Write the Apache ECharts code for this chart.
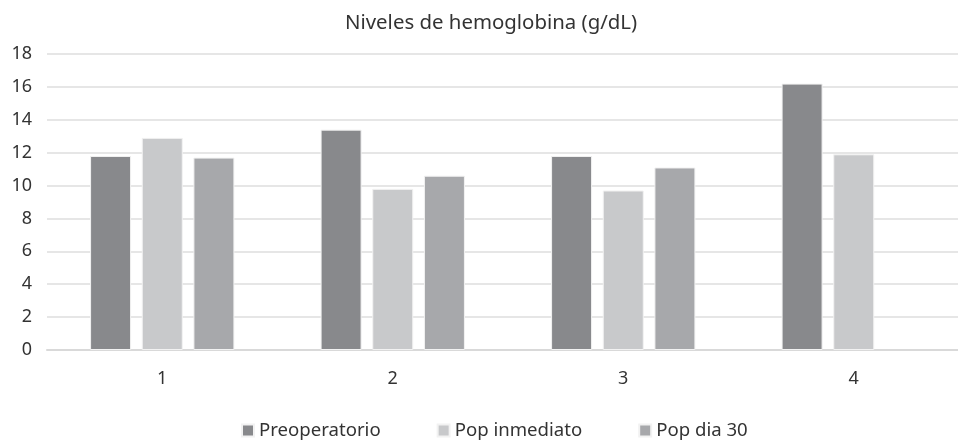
<!DOCTYPE html>
<html>
<head>
    <meta charset="utf-8">
    <title>Niveles de hemoglobina</title>
    <script type="text/javascript" src="https://cdn.jsdelivr.net/npm/echarts@6/dist/echarts.min.js"></script>
</head>
<body style="margin:0;background:#fff;overflow:hidden;">
<!-- el area del grafico sigue un poco mas alla del borde derecho, como en la imagen original -->
<div id="main" style="width:970px;height:442px;"></div>

<script type="text/javascript">
    // datos
    var categorias = ['1', '2', '3', '4'];
    var preoperatorio = [11.8, 13.4, 11.8, 16.2];
    var popInmediato = [12.9, 9.8, 9.7, 11.9];
    var popDia30 = [11.7, 10.6, 11.1, null];

    var chart = echarts.init(document.getElementById('main'));
    var fuente = 'Noto Sans';

    function serie(nombre, datos, color) {
        return {
            name: nombre,
            type: 'bar',
            data: datos,
            barWidth: 41,
            barGap: '26%',
            itemStyle: {
                color: color,
                borderColor: '#f2f2f2',
                borderWidth: 1
            }
        };
    }

    var option = {
        backgroundColor: '#fff',
        animation: false,
        title: {
            text: 'Niveles de hemoglobina (g/dL)',
            left: 340,
            top: 8,
            textStyle: { color: '#333', fontSize: 20.4, fontWeight: 'normal', fontFamily: fuente }
        },
        legend: {
            bottom: -3,
            left: 236,
            itemWidth: 12,
            itemHeight: 12,
            itemGap: 56,
            icon: 'rect',
            textStyle: { color: '#333', fontSize: 18.6, fontFamily: fuente }
        },
        grid: { left: 47, width: 922, top: 54, height: 296, containLabel: false },
        xAxis: {
            type: 'category',
            data: categorias,
            axisLine: { lineStyle: { color: '#d9d9d9', width: 2 } },
            axisTick: { show: false },
            axisLabel: { color: '#333', fontSize: 18, fontFamily: fuente, margin: 20 }
        },
        yAxis: {
            type: 'value',
            min: 0,
            max: 18,
            interval: 2,
            axisLine: { show: false },
            axisTick: { show: false },
            splitLine: { lineStyle: { color: '#dedede', width: 1.5 } },
            axisLabel: { color: '#333', fontSize: 18, fontFamily: fuente, margin: 15 }
        },
        series: [
            serie('Preoperatorio', preoperatorio, '#88898c'),
            serie('Pop inmediato', popInmediato, '#c8c9cb'),
            serie('Pop dia 30', popDia30, '#a7a8ab')
        ]
    };
    chart.setOption(option);
</script>
</body>
</html>
